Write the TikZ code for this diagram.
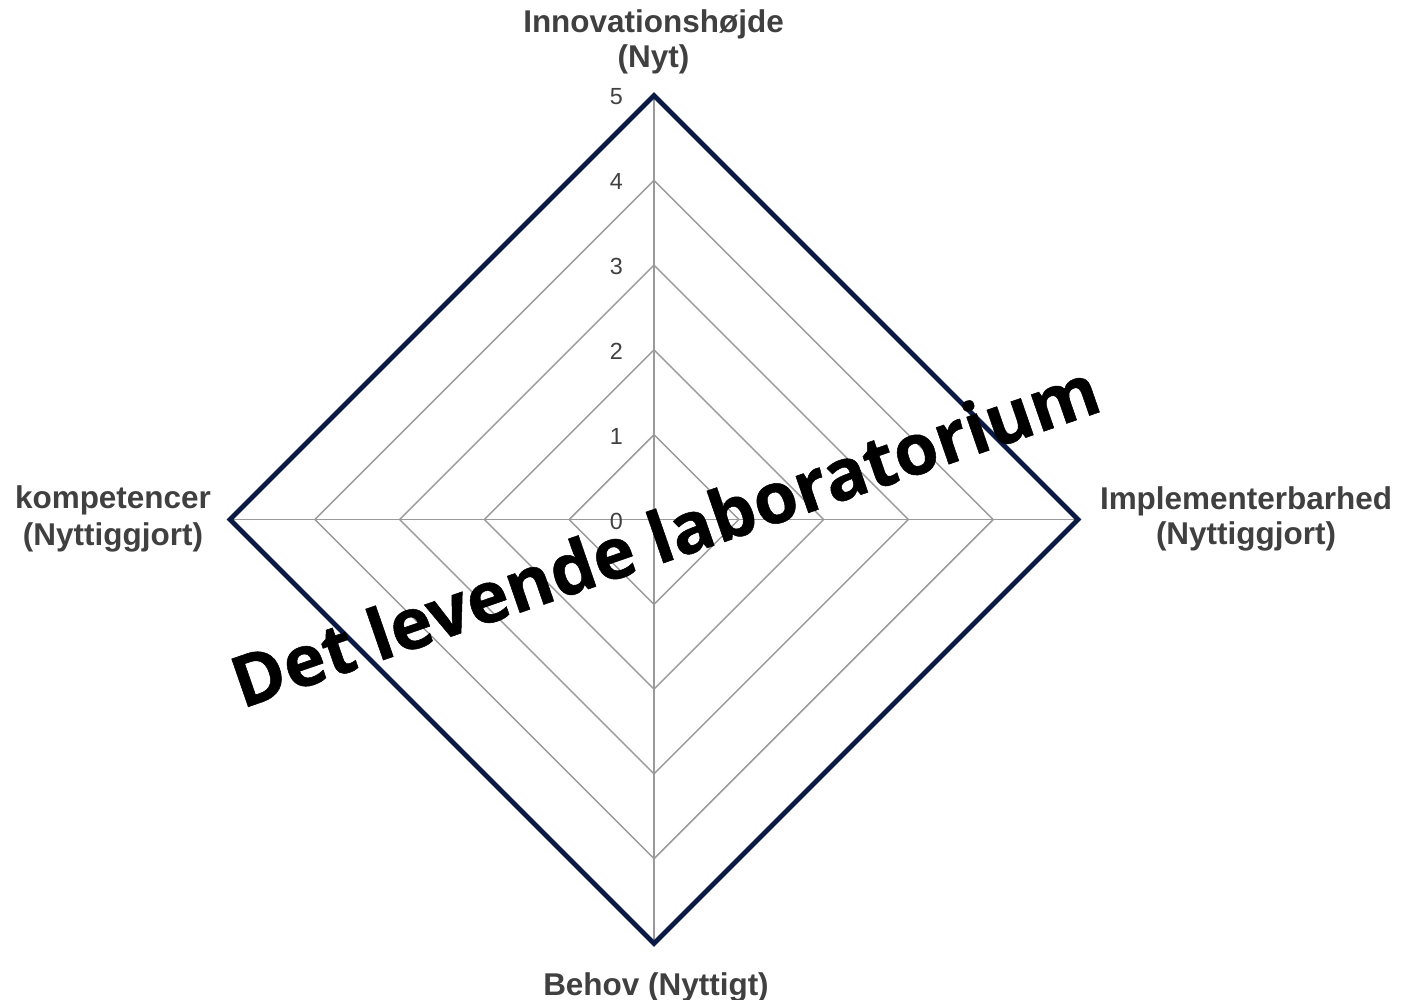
\documentclass[tikz,border=0pt]{standalone}
\usepackage{fontspec}
\setmainfont{Liberation Sans}
\newfontfamily\bigfont{Open Sans}[BoldFeatures={FakeBold=0.7}]
\definecolor{gridgray}{HTML}{9A9A9A}
\definecolor{navy}{HTML}{0B1A45}
\definecolor{labelgray}{HTML}{404040}
\tikzset{
  gridline/.style={draw=gridgray, line width=1.1pt},
  dataline/.style={draw=navy, line width=3.5pt, line join=miter},
  ticklabel/.style={text=labelgray, inner sep=0pt, anchor=east, font=\fontsize{17.5}{20}\selectfont},
  axlabel/.style={text=labelgray, inner sep=0pt, anchor=base, font=\fontsize{23.6}{27}\selectfont\bfseries},
  bigtext/.style={text=black, inner sep=0pt, anchor=base west, font=\bigfont\fontsize{53.25}{60}\selectfont\bfseries}
}
\begin{document}
\begin{tikzpicture}[x=0.75pt,y=-0.75pt]
\useasboundingbox[fill=white] (0,0) rectangle (1402,999);
\begin{scope}[shift={(654,519.5)}]
  \coordinate (O) at (0,0);
  \coordinate (T) at (0,-424);
  \coordinate (R) at (424,0);
  \coordinate (B) at (0,424);
  \coordinate (L) at (-424,0);
  \foreach \r in {1,...,5} {
    \draw[gridline] (0,-84.8*\r) -- (84.8*\r,0) -- (0,84.8*\r) -- (-84.8*\r,0) -- cycle;
  }
  \draw[gridline] (O) -- (T);
  \draw[gridline] (O) -- (R);
  \draw[gridline] (O) -- (B);
  \draw[gridline] (O) -- (L);
  \draw[dataline] (T) -- (R) -- (B) -- (L) -- cycle;
  \foreach \i in {0,...,5} {
    \node[ticklabel] (tick\i) at (-31,-84.8*\i+1.5) {\i};
  }
\end{scope}
\node[axlabel] (top1) at (653.5,33) {Innovationshøjde};
\node[axlabel] (top2) at (653.5,68) {(Nyt)};
\node[axlabel] (left1) at (113,508) {kompetencer};
\node[axlabel] (left2) at (113,545) {(Nyttiggjort)};
\node[axlabel] (right1) at (1246,509) {Implementerbarhed};
\node[axlabel] (right2) at (1246,544) {(Nyttiggjort)};
\node[axlabel] (bottom1) at (656,995) {Behov (Nyttigt)};
\node[bigtext, rotate=19.1] (title) at (242,709) {Det levende laboratorium};
\end{tikzpicture}
\end{document}
